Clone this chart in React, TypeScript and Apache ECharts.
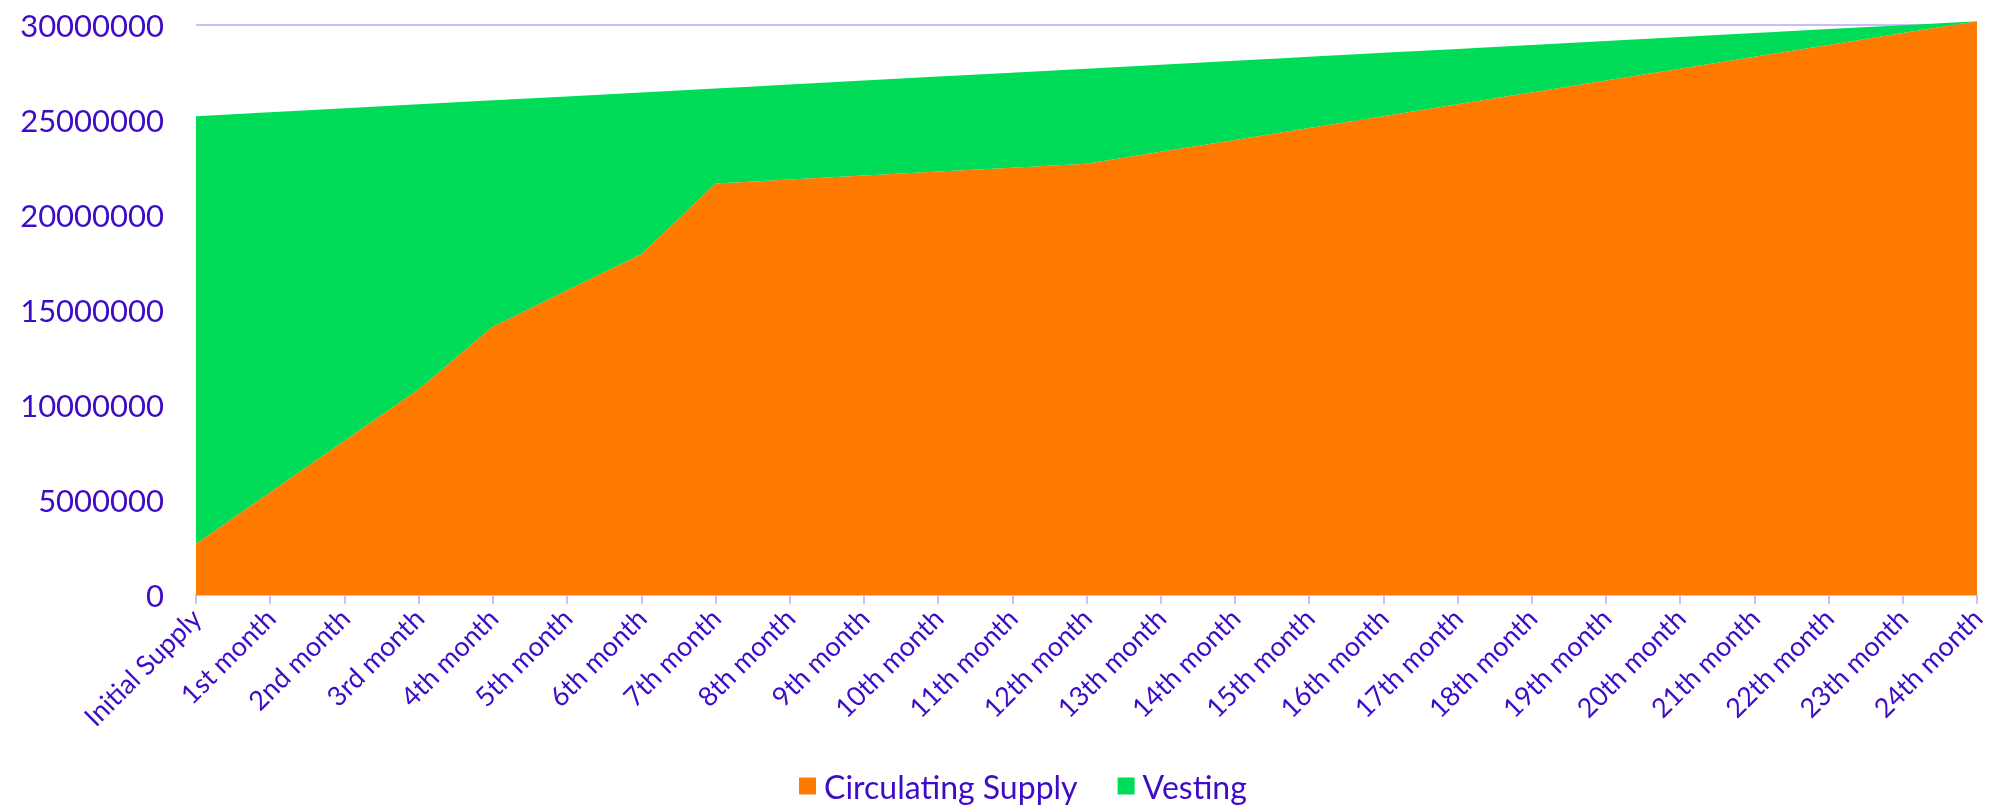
import React, { useEffect, useRef } from "react";
import * as echarts from "echarts";

const categories = [
  "Initial Supply", "1st month", "2nd month", "3rd month", "4th month", "5th month",
  "6th month", "7th month", "8th month", "9th month", "10th month", "11th month",
  "12th month", "13th month", "14th month", "15th month", "16th month", "17th month",
  "18th month", "19th month", "20th month", "21th month", "22th month", "23th month",
  "24th month",
];

const circulatingSupply = [
  2700000, 5408000, 8117000, 10825000, 14130000, 16035000, 17940000, 21658000,
  21867000, 22075000, 22283000, 22492000, 22700000, 23325000, 23950000, 24575000,
  25200000, 25825000, 26450000, 27075000, 27700000, 28325000, 28950000, 29575000,
  30200000,
];

const vesting = [
  22500000, 20000000, 17500000, 15000000, 11903000, 10207000, 8510000, 5000000,
  5000000, 5000000, 5000000, 5000000, 5000000, 4583000, 4167000, 3750000,
  3333000, 2917000, 2500000, 2083000, 1667000, 1250000, 833000, 417000, 0,
];

const yTicks = { min: 0, max: 30000000, interval: 5000000 };

const TEXT = "#3e0cc6";
const AXIS = "#cbbcfc";
const ORANGE = "#ff7a00";
const GREEN = "#00db58";

export default function App() {
  const ref = useRef<HTMLDivElement>(null);
  useEffect(() => {
    if (!ref.current) return;
    const chart = echarts.init(ref.current, undefined, { renderer: "svg" });
    chart.setOption({
      animation: false,
      textStyle: { fontFamily: "Lato" },
      grid: { left: 196, right: 20, top: 25, bottom: 210, containLabel: false },
      legend: {
        top: 765,
        left: 794,
        itemWidth: 17,
        itemHeight: 17,
        itemGap: 40,
        icon: "rect",
        textStyle: { color: TEXT, fontSize: 32, fontFamily: "Lato", padding: [0, 0, 0, 3] },
        data: ["Circulating Supply", "Vesting"],
      },
      xAxis: {
        type: "category",
        data: categories,
        boundaryGap: false,
        axisLine: { lineStyle: { color: AXIS, width: 2 } },
        axisTick: { show: true, length: 9, lineStyle: { color: AXIS, width: 2 }, alignWithLabel: true },
        axisLabel: {
          rotate: 45,
          interval: 0,
          color: TEXT,
          fontSize: 27,
          fontFamily: "Lato",
          margin: 18,
        },
        splitLine: { show: false },
      },
      yAxis: {
        type: "value",
        min: yTicks.min,
        max: yTicks.max,
        interval: yTicks.interval,
        axisLine: { show: false },
        axisTick: { show: false },
        axisLabel: {
          color: TEXT,
          fontSize: 31,
          fontFamily: "Lato",
          margin: 32,
          formatter: (v: number) => String(v),
        },
        splitLine: { show: true, lineStyle: { color: AXIS, width: 2 } },
      },
      series: [
        {
          name: "Circulating Supply",
          type: "line",
          stack: "total",
          data: circulatingSupply,
          symbol: "none",
          clip: false,
          itemStyle: { color: ORANGE },
          lineStyle: { width: 0 },
          areaStyle: { color: ORANGE, opacity: 1 },
        },
        {
          name: "Vesting",
          type: "line",
          stack: "total",
          data: vesting,
          symbol: "none",
          clip: false,
          itemStyle: { color: GREEN },
          lineStyle: { width: 0 },
          areaStyle: { color: GREEN, opacity: 1 },
        },
      ],
    });
    return () => chart.dispose();
  }, []);
  return (
    <div
      ref={ref}
      style={{ position: "fixed", left: 0, top: 0, width: 1997, height: 805 }}
    />
  );
}
